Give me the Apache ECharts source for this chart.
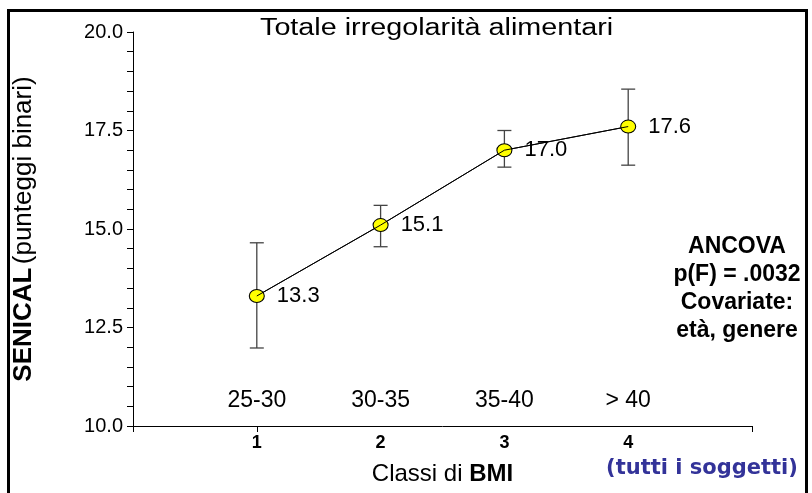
<!DOCTYPE html>
<html>
<head>
<meta charset="utf-8">
<script src="https://cdn.jsdelivr.net/npm/echarts@6/dist/echarts.min.js"></script>
<style>
  html, body { margin: 0; padding: 0; background: #fff; }
  #chart { width: 812px; height: 493px; }
</style>
</head>
<body>
<div id="chart"></div>
<script>
// classi di BMI (asse x) e valori
var classiX = [1, 2, 3, 4];
var classiBMI = ['25-30', '30-35', '35-40', '> 40'];
var medie = [13.3, 15.1, 17.0, 17.6];
var erroreSup = [14.65, 15.6, 17.5, 18.55];
var erroreInf = [11.98, 14.55, 16.57, 16.62];
var xTickMarks = [0, 1, 5];

var puntiMedie = classiX.map(function (x, i) { return [x, medie[i]]; });
var puntiErrore = classiX.map(function (x, i) { return [x, erroreInf[i], erroreSup[i]]; });

var chart = echarts.init(document.getElementById('chart'));

var option = {
    animation: false,
    backgroundColor: '#fff',
    textStyle: { fontFamily: '"Liberation Sans", Arial, sans-serif' },
    grid: { left: 133, right: 60, top: 32, bottom: 67, containLabel: false },
    xAxis: [{
        type: 'value',
        min: 0, max: 5, interval: 1,
        splitLine: { show: false },
        axisLine: { onZero: false, lineStyle: { color: '#000', width: 1 } },
        axisTick: { show: true, length: 6, customValues: xTickMarks, lineStyle: { color: '#000' } },
        axisLabel: {
            margin: 8,
            color: '#000', fontSize: 18, fontWeight: 'bold',
            formatter: function (v) { return classiX.indexOf(v) >= 0 ? String(v) : ''; }
        },
        name: '{n|Classi di }{b|BMI}',
        nameLocation: 'middle',
        nameGap: 36,
        nameTextStyle: {
            rich: {
                n: { fontSize: 24, color: '#000', fontFamily: '"Liberation Sans", Arial, sans-serif' },
                b: { fontSize: 24, color: '#000', fontWeight: 'bold', fontFamily: '"Liberation Sans", Arial, sans-serif' }
            }
        }
    }, {
        type: 'value',
        position: 'bottom',
        min: 0, max: 5, interval: 1,
        splitLine: { show: false },
        axisLine: { show: false },
        axisTick: { show: false },
        axisLabel: {
            inside: true,
            margin: 14,
            customValues: classiX,
            color: '#000', fontSize: 23,
            formatter: function (v) { return classiBMI[v - 1] || ''; }
        }
    }],
    yAxis: {
        type: 'value',
        min: 10, max: 20, interval: 2.5,
        splitLine: { show: false },
        axisLine: { show: true, onZero: false, lineStyle: { color: '#000', width: 1 } },
        axisTick: { show: true, length: 6, lineStyle: { color: '#000' } },
        minorTick: { show: true, splitNumber: 5, length: 6, lineStyle: { color: '#000' } },
        axisLabel: {
            margin: 10, color: '#000', fontSize: 20,
            formatter: function (v) { return v.toFixed(1); }
        },
        name: '{b|SENICAL} {n|(punteggi binari)}',
        nameLocation: 'middle',
        nameRotate: 90,
        nameGap: 96,
        nameTextStyle: {
            rich: {
                b: { fontSize: 26, fontWeight: 'bold', color: '#000', fontFamily: '"Liberation Sans", Arial, sans-serif' },
                n: { fontSize: 26, color: '#000', fontFamily: '"Liberation Sans", Arial, sans-serif' }
            }
        }
    },
    series: [{
        type: 'custom',
        name: 'errore',
        z: 1,
        data: puntiErrore,
        renderItem: function (params, api) {
            var top = api.coord([api.value(0), api.value(2)]);
            var bot = api.coord([api.value(0), api.value(1)]);
            var w = 7;
            var st = { stroke: '#444', lineWidth: 1.3 };
            return {
                type: 'group',
                children: [
                    { type: 'line', shape: { x1: top[0], y1: top[1], x2: bot[0], y2: bot[1] }, style: st },
                    { type: 'line', shape: { x1: top[0] - w, y1: top[1], x2: top[0] + w, y2: top[1] }, style: st },
                    { type: 'line', shape: { x1: bot[0] - w, y1: bot[1], x2: bot[0] + w, y2: bot[1] }, style: st }
                ]
            };
        }
    }, {
        type: 'line',
        name: 'medie',
        z: 3,
        data: puntiMedie,
        symbol: 'circle',
        symbolSize: [15, 13],
        lineStyle: { color: '#000', width: 1 },
        itemStyle: { color: '#ffff00', borderColor: '#000', borderWidth: 1 },
        label: {
            show: true, position: 'right', distance: 12,
            color: '#000', fontSize: 22,
            formatter: function (p) { return p.value[1].toFixed(1); }
        }
    }, {
        type: 'line',
        name: 'linea',
        z: 4,
        data: puntiMedie,
        showSymbol: false,
        silent: true,
        lineStyle: { color: '#000', width: 1 }
    }],
    graphic: [{
        type: 'rect',
        shape: { x: 8.5, y: 10.5, width: 798, height: 500 },
        style: { fill: 'none', stroke: '#000', lineWidth: 3 },
        silent: true
    }, {
        type: 'text',
        x: 260, y: 29,
        scaleX: 1.25,
        style: {
            text: 'Totale irregolarità alimentari',
            x: 0, y: 0,
            font: '23px "Liberation Sans", Arial, sans-serif',
            fill: '#000',
            textAlign: 'left', textVerticalAlign: 'middle'
        }
    }, {
        type: 'text',
        x: 737, y: 247,
        style: {
            text: 'ANCOVA\np(F) = .0032\nCovariate:\netà, genere',
            font: 'bold 23px "Liberation Sans", Arial, sans-serif',
            lineHeight: 28,
            fill: '#000',
            textAlign: 'center', textVerticalAlign: 'top',
            y: -14
        }
    }, {
        type: 'text',
        x: 702, y: 469,
        style: {
            text: '(tutti i soggetti)',
            font: 'bold 21px "DejaVu Sans", Verdana, sans-serif',
            fill: '#333399',
            textAlign: 'center', textVerticalAlign: 'middle'
        }
    }]
};

chart.setOption(option);
</script>
</body>
</html>
